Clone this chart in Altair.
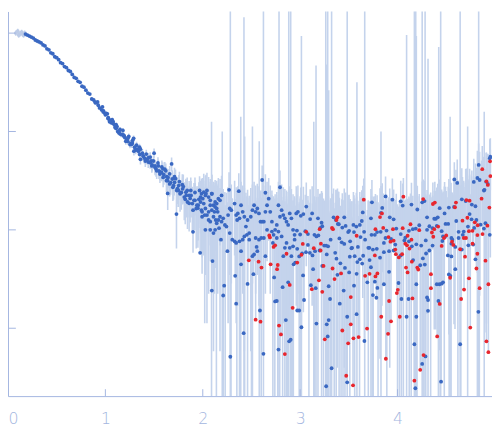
import altair as alt
import pandas as pd

# ---- data (q, log10 of |I|) ----
low_q_pts = [(0.08, 0.00), (0.10, 0.02), (0.11, -0.02), (0.12, -0.01), (0.14, 0.01), (0.15, -0.01), (0.16, -0.02), (0.17, 0.00)]

curve_pts = [
    (0.18,-0.01),(0.20,-0.02),(0.22,-0.03),(0.24,-0.04),(0.26,-0.05),(0.28,-0.07),(0.30,-0.08),(0.32,-0.09),
    (0.34,-0.10),(0.36,-0.12),(0.38,-0.13),(0.40,-0.16),(0.42,-0.17),(0.44,-0.20),(0.46,-0.21),(0.48,-0.24),
    (0.50,-0.25),(0.52,-0.27),(0.54,-0.30),(0.56,-0.31),(0.58,-0.34),(0.60,-0.35),(0.62,-0.38),(0.64,-0.39),
    (0.66,-0.42),(0.68,-0.45),(0.70,-0.46),(0.72,-0.49),(0.74,-0.50),(0.76,-0.54),(0.78,-0.55),(0.80,-0.58),
    (0.82,-0.61),(0.84,-0.62),(0.86,-0.67),(0.88,-0.68),(0.90,-0.71),(0.92,-0.70),(0.94,-0.76),(0.96,-0.78),
    (0.97,-0.75),(0.98,-0.79),(0.99,-0.81),(1.00,-0.83),(1.02,-0.82),(1.03,-0.86),(1.04,-0.88),(1.06,-0.91),
    (1.07,-0.88),(1.08,-0.90),(1.10,-0.96),(1.11,-0.93),(1.12,-0.95),(1.14,-1.00),(1.15,-0.98),(1.16,-1.03),
    (1.18,-0.99),(1.19,-1.04),(1.20,-1.06),(1.22,-1.08),(1.23,-1.10),(1.24,-1.05),(1.26,-1.12),(1.27,-1.13),
    (1.28,-1.09),(1.29,-1.07),(1.30,-1.16),(1.31,-1.19),(1.32,-1.14),(1.34,-1.20),(1.35,-1.16),(1.36,-1.18),
    (1.38,-1.22),(1.39,-1.25),(1.40,-1.27),(1.42,-1.23),(1.43,-1.28),(1.44,-1.31),(1.46,-1.26),(1.47,-1.30),
    (1.48,-1.34),(1.50,-1.22),(1.51,-1.35),(1.52,-1.38),(1.54,-1.32),(1.55,-1.40),(1.56,-1.41),(1.58,-1.36),
    (1.59,-1.38),(1.60,-1.44),(1.62,-1.40),(1.63,-1.46),(1.64,-1.50),(1.64,-1.63),(1.66,-1.43),(1.67,-1.52),
    (1.68,-1.33),(1.70,-1.55),(1.71,-1.46),(1.72,-1.48),(1.73,-1.84),(1.74,-1.58),(1.75,-1.60),(1.76,-1.51),
    (1.78,-1.62),(1.79,-1.54),(1.80,-1.56),(1.82,-1.69),(1.83,-1.65),(1.84,-1.60),(1.86,-1.73),(1.87,-1.68),
    (1.88,-1.65),(1.90,-1.80),(1.90,-2.02),(1.91,-1.70),(1.92,-1.62),(1.94,-1.75),(1.95,-1.78),(1.96,-1.69),
    (0.893,-0.70),(0.927,-0.733),(0.977,-0.80),(1.01,-0.817),(1.027,-0.867),(1.043,-0.90),(1.077,-0.917),(1.093,-0.933),
    (1.11,-0.967),(1.127,-1.0),(1.143,-1.017),(1.177,-1.033),(1.193,-1.05),(1.21,-1.10),(1.233,-1.067),(1.253,-1.133),
    (1.277,-1.117),(1.293,-1.20),(1.327,-1.183),(1.353,-1.233),(1.36,-1.283),(1.387,-1.25),(1.41,-1.30),(1.443,-1.267),
    (1.46,-1.317),(1.477,-1.35),(1.493,-1.30),(1.51,-1.367),(1.527,-1.40),(1.543,-1.35),(1.56,-1.433),(1.577,-1.417),
    (1.593,-1.467),(1.61,-1.383),(1.627,-1.50),(1.643,-1.467),(1.66,-1.533),(1.687,-1.483),(1.693,-1.567),(1.71,-1.517),
    (1.733,-1.60),(1.753,-1.55),(1.767,-1.633),(1.793,-1.583),(1.81,-1.667),(1.827,-1.617),(1.843,-1.717),(1.86,-1.65),
    (1.877,-1.60),(1.893,-1.733),(1.92,-1.70),(1.933,-1.783),(1.953,-1.75),(1.977,-1.667),(1.993,-1.817),(2.01,-1.733),
    (2.027,-1.783),(2.043,-1.85),(2.06,-1.90),(2.077,-1.75),(2.093,-1.633),(2.11,-1.867),(2.127,-1.767),(2.143,-1.933),
    (2.153,-1.817),
]

noise_pos_pts = [
    (1.967,-1.60),(1.987,-1.633),(2.01,-1.617),(2.027,-1.65),(2.043,-1.60),(2.06,-1.667),(1.977,-1.717),(2.0,-1.683),
    (2.033,-1.633),(2.077,-1.70),(2.093,-1.633),(2.11,-1.75),(2.127,-1.717),(2.143,-1.733),(2.16,-1.683),(2.177,-1.70),
    (2.193,-1.65),(1.987,-1.80),(2.02,-1.85),(1.993,-1.867),(2.06,-1.817),(2.077,-1.917),(2.093,-1.80),(2.12,-1.817),
    (2.143,-1.783),(2.133,-1.90),(2.16,-1.90),(2.177,-1.867),(2.193,-1.917),(2.21,-1.883),(2.227,-1.95),(2.243,-1.967),
    (2.26,-1.85),(2.277,-1.783),(2.293,-1.80),(2.327,-1.733),(2.343,-1.85),(2.353,-1.90),(2.36,-1.833),(2.377,-1.883),
    (2.393,-1.75),(2.41,-1.817),(2.427,-1.867),(2.443,-1.967),(2.46,-1.90),(2.477,-2.033),(2.493,-1.867),(2.51,-1.80),
    (2.527,-1.75),(2.543,-1.817),(2.56,-1.783),(2.577,-1.833),(2.593,-1.917),(2.61,-1.917),(2.627,-1.917),(2.643,-1.817),
    (2.66,-1.75),(2.677,-1.683),(2.693,-1.817),(2.71,-1.917),(2.727,-2.05),(2.743,-2.0),(2.76,-1.95),(2.777,-1.75),
    (2.793,-1.867),(2.81,-1.80),(2.827,-1.85),(2.843,-1.883),(2.86,-1.917),(2.877,-1.95),(2.893,-1.833),(2.91,-1.883),
    (2.927,-2.0),(2.943,-2.05),(2.96,-1.833),(2.61,-1.493),(2.793,-1.567),(2.643,-1.623),(2.27,-1.593),(2.37,-1.607),
    (1.973,-2.233),(2.027,-2.0),(2.077,-2.0),(2.11,-2.033),(2.127,-2.0),(2.167,-1.983),(2.187,-2.10),(2.253,-2.217),
    (2.277,-2.033),(2.303,-2.10),(2.327,-2.117),(2.343,-2.133),(2.377,-2.117),(2.393,-2.217),(2.41,-2.10),(2.427,-2.067),
    (2.453,-2.05),(2.477,-2.10),(2.51,-2.267),(2.527,-2.25),(2.543,-2.083),(2.553,-2.173),(2.56,-2.217),(2.577,-2.10),
    (2.6,-2.083),(2.627,-2.083),(2.643,-2.267),(2.66,-2.0),(2.71,-2.017),(2.72,-2.133),(2.76,-2.083),(2.777,-2.017),
    (2.81,-2.067),(2.827,-2.267),(2.843,-2.183),(2.86,-2.133),(2.893,-2.183),(2.91,-2.267),(2.927,-2.167),(2.943,-2.10),
    (2.1,-2.317),(2.093,-2.617),(2.21,-2.667),(2.22,-2.567),(2.333,-2.467),(2.393,-2.35),(2.46,-2.55),(2.52,-2.45),
    (2.343,-2.75),(2.42,-3.05),(2.283,-3.29),(2.587,-2.82),(2.623,-3.26),(2.733,-2.483),(2.743,-2.727),(2.76,-2.723),
    (2.777,-3.217),(2.82,-2.583),(2.853,-2.917),(2.877,-2.533),(2.887,-3.133),(2.903,-3.117),(2.933,-2.35),(2.95,-2.333),
    (2.977,-1.817),(3.007,-1.857),(3.033,-1.84),(3.063,-1.763),(3.103,-1.89),(3.123,-1.833),(3.183,-1.883),(3.22,-1.927),
    (3.343,-1.873),(3.367,-1.90),(3.453,-1.873),(3.397,-1.943),(3.433,-1.977),(3.467,-1.96),(3.503,-2.01),(3.547,-1.95),
    (3.577,-1.967),(3.613,-1.95),(3.633,-1.91),(3.643,-1.823),(3.727,-1.883),(3.737,-1.72),(3.83,-1.827),(3.843,-1.777),
    (3.877,-1.66),(3.92,-1.873),(3.947,-1.693),(2.967,-2.007),(3.0,-2.047),(3.053,-2.013),(3.08,-2.043),(3.147,-2.05),
    (3.167,-2.067),(3.187,-2.057),(3.207,-1.98),(3.227,-1.963),(3.313,-2.10),(3.387,-1.94),(3.403,-2.087),(3.427,-2.127),
    (3.453,-2.143),(3.493,-2.023),(3.513,-2.117),(3.533,-2.183),(3.553,-2.023),(3.593,-2.173),(3.62,-2.073),(3.657,-2.02),
    (3.667,-2.10),(3.71,-2.183),(3.733,-2.05),(3.767,-2.05),(3.79,-2.023),(3.827,-2.02),(3.86,-2.133),(3.877,-2.083),
    (3.887,-2.007),(3.913,-2.217),(3.933,-2.093),(2.97,-2.193),(2.99,-2.27),(3.02,-2.24),(3.06,-2.227),(3.08,-2.153),
    (3.1,-2.233),(3.127,-2.26),(3.153,-2.217),(3.2,-2.21),(3.247,-2.16),(3.267,-2.16),(3.287,-2.167),(3.36,-2.233),
    (3.373,-2.293),(3.413,-2.34),(3.46,-2.387),(3.51,-2.273),(3.527,-2.187),(3.56,-2.267),(3.587,-2.327),(3.613,-2.30),
    (3.647,-2.263),(3.70,-2.183),(3.747,-2.20),(3.787,-2.193),(3.82,-2.283),(3.86,-2.227),(3.96,-2.21),(3.03,-2.463),
    (3.11,-2.563),(3.133,-2.40),(3.16,-2.593),(3.227,-2.367),(3.273,-2.25),(3.293,-2.573),(3.383,-2.457),(3.447,-2.617),
    (3.503,-2.433),(3.553,-2.567),(3.58,-2.447),(3.637,-2.343),(3.69,-2.533),(3.713,-2.307),(3.727,-2.38),(3.747,-2.663),
    (3.767,-2.527),(3.793,-2.59),(3.783,-2.69),(3.86,-2.553),(3.913,-2.427),(2.97,-2.82),(2.99,-2.82),(3.013,-2.99),
    (3.04,-2.713),(3.167,-2.953),(3.273,-2.96),(3.293,-2.917),(3.307,-2.703),(3.407,-2.75),(3.483,-2.883),(3.58,-2.857),
    (3.66,-3.13),(3.323,-3.407),(3.267,-3.59),(3.483,-3.55),(3.283,-3.083),
    (4.033,-1.71),(4.053,-1.753),(4.143,-1.743),(4.203,-1.793),(4.253,-1.72),(4.277,-1.707),(4.303,-1.873),(4.393,-1.887),
    (4.413,-1.873),(4.433,-1.78),(4.483,-1.833),(4.527,-1.773),(4.58,-1.767),(4.583,-1.487),(4.613,-1.523),(4.66,-1.69),
    (4.70,-1.707),(4.763,-1.743),(4.80,-1.76),(4.783,-1.513),(4.833,-1.34),(4.82,-1.473),(4.843,-1.493),(4.887,-1.60),
    (4.893,-1.593),(4.91,-1.51),(4.927,-1.533),(4.947,-1.273),(4.953,-1.257),(3.96,-1.893),(3.987,-1.987),(4.033,-2.043),
    (4.07,-2.107),(4.117,-2.01),(4.157,-1.993),(4.187,-1.987),(4.223,-1.953),(4.303,-2.0),(4.327,-1.963),(4.36,-1.983),
    (4.377,-1.887),(4.403,-1.96),(4.453,-2.013),(4.467,-2.067),(4.487,-2.073),(4.493,-1.94),(4.52,-1.94),(4.553,-2.083),
    (4.563,-2.10),(4.603,-1.91),(4.627,-2.02),(4.67,-2.05),(4.68,-2.017),(4.723,-1.967),(4.74,-1.84),(4.76,-1.893),
    (4.787,-1.98),(4.81,-1.90),(4.853,-1.947),(4.887,-1.987),(4.903,-1.933),(4.947,-2.05),(3.977,-2.15),(4.08,-2.08),
    (4.117,-2.117),(4.147,-2.167),(4.193,-2.147),(4.243,-2.16),(4.29,-2.107),(4.327,-2.21),(4.36,-2.16),(4.46,-2.113),
    (4.553,-2.14),(4.593,-2.173),(4.627,-2.083),(4.66,-2.20),(4.727,-2.157),(4.777,-2.15),(4.80,-2.30),(4.033,-2.26),
    (4.16,-2.307),(4.233,-2.36),(4.28,-2.353),(4.26,-2.29),(4.293,-2.24),(4.517,-2.26),(4.553,-2.27),(4.593,-2.40),
    (4.527,-2.453),(4.543,-2.467),(4.43,-2.553),(4.453,-2.547),(4.467,-2.533),(4.403,-2.553),(4.193,-2.553),(4.01,-2.54),
    (4.04,-2.703),(4.113,-2.703),(4.303,-2.687),(4.313,-2.713),(4.313,-2.823),(4.42,-2.723),(4.093,-2.883),(4.193,-2.883),
    (4.173,-3.163),(4.253,-3.363),(4.287,-3.287),(4.183,-3.61),(4.447,-3.543),(4.643,-3.163),(4.83,-2.833),
]

noise_neg_pts = [
    (2.473,-2.31),(2.573,-2.323),(2.603,-2.383),(2.683,-2.057),(2.69,-2.077),(2.697,-2.35),(2.727,-2.173),(2.743,-2.157),
    (2.77,-2.357),(2.763,-2.40),(2.86,-2.243),(2.893,-2.56),(2.543,-2.913),(2.593,-2.933),(2.783,-2.973),(2.803,-3.063),
    (2.843,-3.263),(2.923,-2.793),
    (3.027,-2.143),(3.063,-2.02),(3.013,-2.253),(3.2,-1.993),(3.213,-2.14),(3.21,-2.21),(3.14,-2.187),(3.24,-2.367),
    (3.327,-1.98),(3.337,-1.993),(3.373,-1.90),(3.383,-1.873),(3.353,-2.50),(3.333,-2.393),(3.42,-2.443),(3.58,-2.06),
    (3.667,-2.467),(3.713,-2.447),(3.773,-2.473),(3.793,-2.443),(3.653,-1.693),(3.84,-1.833),(3.82,-1.87),(3.853,-1.98),
    (3.907,-2.073),(3.927,-2.12),(3.953,-1.993),(3.767,-2.26),(3.773,-1.993),(2.97,-2.333),(3.12,-2.603),(3.193,-2.513),
    (3.227,-2.63),(3.52,-2.683),(3.833,-2.883),(3.913,-2.723),(3.933,-2.93),(3.687,-3.003),(3.433,-3.023),(3.52,-2.96),
    (3.6,-3.09),(3.547,-3.103),(3.493,-3.153),(3.253,-3.113),(3.903,-3.057),(3.88,-3.31),(3.473,-3.483),(3.543,-3.58),
    (4.06,-1.663),(4.263,-1.687),(4.363,-1.737),(4.383,-1.723),(4.6,-1.723),(4.59,-1.77),(4.707,-1.697),(4.74,-1.703),
    (4.863,-1.683),(4.943,-1.773),(4.87,-1.383),(4.913,-1.507),(4.95,-1.303),(4.953,-1.453),(4.927,-1.543),(3.96,-2.11),
    (4.053,-1.983),(4.103,-2.06),(4.08,-2.14),(4.097,-2.157),(4.123,-2.19),(4.143,-2.10),(4.133,-1.943),(4.223,-2.003),
    (4.353,-2.027),(4.377,-1.993),(4.417,-1.967),(4.477,-2.083),(4.5,-2.057),(4.56,-2.12),(4.573,-2.153),(4.453,-2.163),
    (4.367,-2.07),(4.667,-1.907),(4.717,-1.877),(4.733,-2.013),(4.77,-2.01),(4.793,-1.923),(4.823,-1.953),(4.82,-2.053),
    (4.77,-2.14),(4.703,-2.083),(4.68,-2.083),(4.873,-2.043),(4.923,-1.957),(3.977,-2.20),(3.983,-2.247),(4.013,-2.28),
    (4.047,-2.247),(4.087,-2.383),(4.103,-2.433),(4.147,-2.323),(4.203,-2.383),(4.213,-2.403),(4.343,-2.45),(4.54,-2.487),
    (4.643,-2.197),(4.693,-2.273),(4.82,-2.243),(4.81,-2.393),(4.903,-2.313),(4.933,-2.553),(4.733,-2.493),(4.683,-2.607),
    (4.653,-2.703),(4.843,-2.593),(3.993,-2.643),(4.003,-2.61),(4.023,-2.883),(4.153,-2.697),(4.343,-2.593),(4.433,-2.753),
    (4.407,-3.083),(4.747,-2.993),(4.913,-3.133),(4.933,-3.243),(4.267,-3.273),(4.233,-3.423),(4.173,-3.533),
]

# uncertainty (linear units) per 0.1-wide q bin
sigma_bins = [0.06, 0.06, 0.02, 0.015, 0.012, 0.010, 0.008, 0.007, 0.006, 0.006,
              0.006, 0.006, 0.006, 0.006, 0.0065, 0.007, 0.0075, 0.008, 0.009, 0.010,
              0.013, 0.013, 0.013, 0.013, 0.013, 0.013, 0.013, 0.013, 0.013, 0.013,
              0.013, 0.013, 0.013, 0.013, 0.013, 0.013, 0.013, 0.013, 0.013, 0.013,
              0.012, 0.012, 0.012, 0.012, 0.016, 0.016, 0.022, 0.022, 0.030, 0.030]

# error bars that run far above the band (q, log10 of upper end); they also reach the bottom
spike_pts = [(2.09,-0.9),(2.20,-1.0),(2.283,0.5),(2.39,-0.85),(2.423,0.16),(2.43,-1.05),(2.51,-0.95),(2.58,-1.1),
             (2.623,0.5),(2.783,0.5),(2.883,0.5),(2.903,0.5),(3.013,-0.03),(3.14,-0.9),(3.163,-0.33),
             (3.263,0.5),(3.273,-0.32),(3.283,0.5),(3.293,-0.58),(3.323,0.5),(3.483,0.5),(3.583,-0.50),
             (3.663,0.5),(3.83,-1.0),(4.093,-0.02),(4.173,0.5),(4.187,0.5),(4.193,-0.03),(4.253,0.5),(4.283,0.5),
             (4.313,-0.26),(4.423,-0.14),(4.443,0.5),(4.54,-0.85),(4.643,0.5),(4.72,-0.95),(4.833,0.5),(4.89,-0.8)]

# error bars that run from the band down past the bottom edge (q, log10 of upper end)
deep_pts = [(2.14,-1.72),(2.21,-1.68),(2.23,-1.75),(2.29,-1.70),(2.35,-1.78),(2.46,-1.66),(2.50,-1.74),
            (2.60,-1.70),(2.72,-1.76),(2.74,-1.68),(2.77,-1.72),(2.79,-1.80),(2.82,-1.70),(2.86,-1.66),
            (2.87,-1.74),(2.92,-1.78),(2.93,-1.70),(2.99,-1.72),(3.00,-1.68),(3.09,-1.76),(3.15,-1.70),
            (3.22,-1.74),(3.24,-1.68),(3.27,-1.72),(3.29,-1.66),(3.31,-1.70),(3.35,-1.78),(3.37,-1.72),
            (3.40,-1.68),(3.42,-1.76),(3.44,-1.70),(3.46,-1.74),(3.51,-1.72),(3.56,-1.68),(3.61,-1.74),
            (3.70,-1.70),(3.74,-1.76),(3.75,-1.66),(3.80,-1.72),(3.89,-1.70),(4.00,-1.74),(4.02,-1.70),
            (4.04,-1.66),(4.06,-1.72),(4.12,-1.68),(4.14,-1.74),(4.20,-1.66),(4.27,-1.70),(4.29,-1.64),
            (4.34,-1.62),(4.42,-1.60),(4.48,-1.56),(4.53,-1.58),(4.55,-1.52),(4.62,-1.50),(4.65,-1.55),
            (4.82,-1.42),(4.84,-1.46)]

x_ticks = [0, 1, 2, 3, 4]
y_ticks = [1, 0.1, 0.01, 0.001]

# ---- build tables ----
FLOOR = 1e-5


def table(pts, kind):
    rows = []
    for q, lg in pts:
        i = 10 ** lg
        s = sigma_bins[min(int(q * 10), len(sigma_bins) - 1)]
        lo = i - s if i - s > 0 else i  # a lower end below zero cannot be drawn on a log axis
        rows.append({"q": q, "I": i, "hi": i + s, "lo": lo, "kind": kind})
    return rows


low_df = pd.DataFrame(table(low_q_pts, "low"))
pos_df = pd.DataFrame(table(curve_pts, "pos") + table(noise_pos_pts, "pos"))
neg_df = pd.DataFrame(table(noise_neg_pts, "neg"))
spk_df = pd.DataFrame([{"q": q, "hi": 10 ** t, "lo": FLOOR} for q, t in spike_pts + deep_pts])
bars_df = pd.concat([low_df, pos_df, neg_df, spk_df], ignore_index=True)

AX = "#a3b6e0"
BAR = "#c4d3ec"

xs = alt.Scale(domain=[0, 4.97], nice=False, zero=False)
ys = alt.Scale(type="log", domain=[10 ** -3.69, 10 ** 0.22], nice=False)

x_axis = alt.Axis(values=x_ticks, format="d", ticks=False, grid=False, domainColor=AX, domainWidth=1,
                  labelColor=AX, labelFontSize=16, labelFont="DejaVu Sans", labelFontWeight=300,
                  labelFlush=True, labelPadding=15, title=None)
y_axis = alt.Axis(values=y_ticks, labels=False, ticks=False, grid=False, domainColor=AX,
                  domainWidth=1, title=None)

bars = alt.Chart(bars_df).mark_rule(color=BAR, strokeWidth=1.6, clip=True).encode(
    x=alt.X("q:Q", scale=xs, axis=x_axis),
    y=alt.Y("lo:Q", scale=ys, axis=y_axis),
    y2="hi:Q",
)

low = alt.Chart(low_df).mark_circle(color="#bccbe7", size=15, opacity=1, clip=True).encode(
    x="q:Q", y="I:Q")
pos = alt.Chart(pos_df).mark_circle(color="#3a68c2", size=15, opacity=1, clip=True).encode(
    x="q:Q", y="I:Q")
neg = alt.Chart(neg_df).mark_circle(color="#e8262e", size=15, opacity=1, clip=True).encode(
    x="q:Q", y="I:Q")

xt = alt.Chart(pd.DataFrame({"q": x_ticks})).mark_rule(color=AX, strokeWidth=1).encode(
    x="q:Q", y=alt.value(391), y2=alt.value(384))
yt = alt.Chart(pd.DataFrame({"I": y_ticks})).mark_rule(color=AX, strokeWidth=1).encode(
    y="I:Q", x=alt.value(0), x2=alt.value(8))

chart = alt.layer(bars, low, pos, neg, xt, yt).properties(
    width=492, height=391,
    autosize=alt.AutoSizeParams(type="none"),
    padding={"left": 0, "top": 0, "right": 0, "bottom": 36},
    background="white",
).configure_view(stroke=None)

chart.save("out.html", embed_options={"renderer": "svg", "actions": False})
